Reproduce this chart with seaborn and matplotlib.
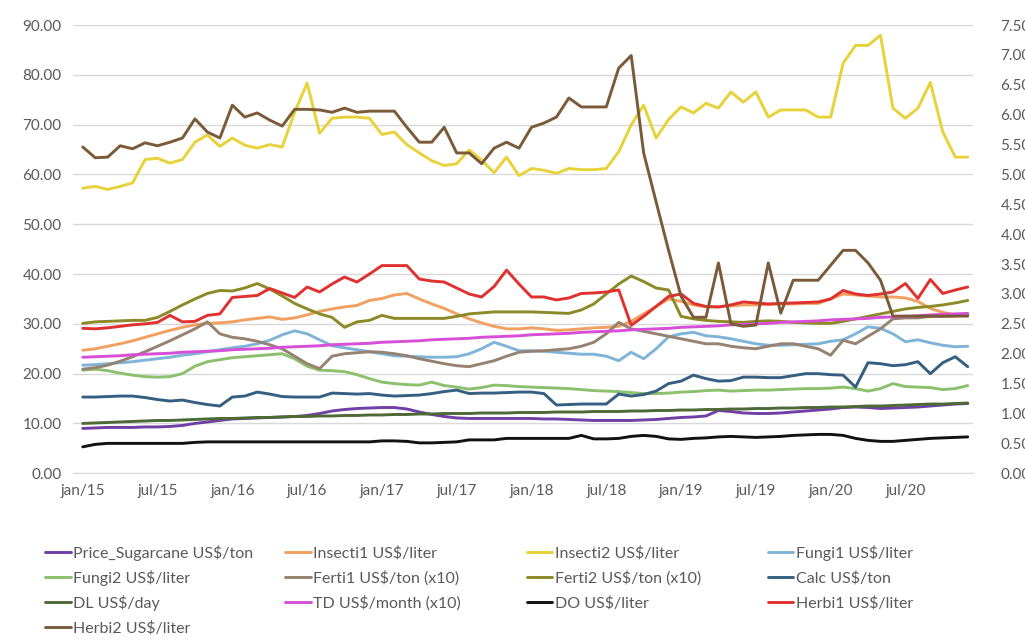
import numpy as np
import matplotlib
matplotlib.use("Agg")
import matplotlib.pyplot as plt
from matplotlib.ticker import FormatStrFormatter, MultipleLocator
import seaborn as sns

# --- Data (monthly, jan/15 .. dec/20) ---
months = list(range(72))
tick_pos = list(range(0, 72, 6))
tick_labels = ["jan/15", "jul/15", "jan/16", "jul/16", "jan/17", "jul/17",
               "jan/18", "jul/18", "jan/19", "jul/19", "jan/20", "jul/20"]

price_sugarcane = [9.0, 9.1, 9.2, 9.2, 9.2, 9.3, 9.3, 9.4, 9.6, 10.0, 10.3, 10.6,
                   10.9, 11.0, 11.1, 11.2, 11.3, 11.4, 11.6, 12.0, 12.5, 12.8, 13.0, 13.1,
                   13.2, 13.2, 12.9, 12.3, 11.8, 11.4, 11.1, 11.0, 11.0, 11.0, 11.0, 11.0,
                   11.0, 10.9, 10.9, 10.8, 10.7, 10.6, 10.6, 10.6, 10.6, 10.7, 10.8, 11.0,
                   11.2, 11.3, 11.5, 12.6, 12.4, 12.1, 12.0, 12.0, 12.1, 12.3, 12.5, 12.7,
                   12.9, 13.2, 13.3, 13.2, 13.0, 13.1, 13.2, 13.3, 13.5, 13.7, 13.9, 14.0]
insecti1 = [24.7, 25.0, 25.5, 26.0, 26.6, 27.3, 28.0, 28.7, 29.3, 29.8, 30.1, 30.2,
            30.4, 30.8, 31.1, 31.4, 30.9, 31.2, 31.8, 32.5, 33.0, 33.4, 33.7, 34.7,
            35.1, 35.8, 36.1, 35.0, 34.0, 33.1, 32.0, 31.0, 30.2, 29.5, 29.0, 29.0,
            29.2, 29.0, 28.7, 28.8, 29.0, 29.2, 29.3, 29.5, 30.5, 32.0, 33.5, 35.0,
            34.5, 33.8, 33.4, 33.4, 33.6, 33.8, 33.8, 33.9, 34.0, 34.0, 34.1, 34.1,
            35.0, 36.0, 35.8, 35.6, 35.4, 35.4, 35.2, 34.5, 33.1, 32.3, 31.8, 31.8]
# secondary axis (right)
insecti2 = [4.77, 4.80, 4.75, 4.80, 4.86, 5.25, 5.27, 5.19, 5.25, 5.54, 5.66, 5.47,
            5.61, 5.49, 5.44, 5.50, 5.46, 6.04, 6.53, 5.69, 5.94, 5.96, 5.96, 5.94,
            5.67, 5.71, 5.50, 5.36, 5.23, 5.15, 5.18, 5.41, 5.24, 5.03, 5.29, 4.98,
            5.10, 5.07, 5.02, 5.10, 5.08, 5.08, 5.10, 5.38, 5.83, 6.16, 5.61, 5.92,
            6.13, 6.03, 6.19, 6.11, 6.38, 6.21, 6.38, 5.96, 6.08, 6.08, 6.08, 5.96,
            5.96, 6.86, 7.16, 7.16, 7.33, 6.11, 5.94, 6.11, 6.54, 5.71, 5.29, 5.29]
fungi1 = [21.7, 21.8, 22.0, 22.2, 22.4, 22.7, 23.0, 23.3, 23.7, 24.0, 24.4, 24.8,
          25.2, 25.5, 26.0, 26.7, 27.8, 28.6, 28.0, 26.8, 25.6, 25.2, 24.8, 24.4,
          24.0, 23.6, 23.5, 23.4, 23.3, 23.3, 23.4, 24.0, 25.0, 26.3, 25.5, 24.6,
          24.6, 24.5, 24.3, 24.1, 23.9, 23.9, 23.5, 22.6, 24.3, 23.0, 25.0, 27.4,
          28.0, 28.3, 27.6, 27.4, 27.0, 26.5, 26.0, 25.7, 25.7, 25.8, 25.9, 26.0,
          26.5, 26.8, 28.0, 29.4, 29.1, 28.0, 26.4, 26.8, 26.2, 25.7, 25.4, 25.5]
fungi2 = [20.7, 20.9, 20.6, 20.1, 19.7, 19.4, 19.3, 19.4, 20.0, 21.5, 22.4, 22.8,
          23.2, 23.4, 23.6, 23.8, 24.0, 23.0, 21.5, 20.7, 20.6, 20.4, 19.8, 19.0,
          18.3, 18.0, 17.8, 17.7, 18.3, 17.6, 17.3, 16.9, 17.2, 17.7, 17.6, 17.4,
          17.3, 17.2, 17.1, 17.0, 16.8, 16.6, 16.5, 16.4, 16.2, 16.0, 16.0, 16.1,
          16.3, 16.4, 16.6, 16.7, 16.5, 16.6, 16.7, 16.7, 16.8, 16.9, 17.0, 17.0,
          17.1, 17.3, 17.0, 16.5, 17.0, 18.0, 17.4, 17.3, 17.2, 16.8, 17.0, 17.6]
ferti1 = [20.9, 21.2, 21.7, 22.5, 23.4, 24.4, 25.5, 26.6, 27.8, 29.0, 30.4, 28.0,
          27.3, 27.0, 26.5, 25.8, 25.0, 23.5, 22.0, 21.0, 23.5, 24.0, 24.2, 24.4,
          24.3, 24.0, 23.6, 23.0, 22.5, 22.0, 21.6, 21.4, 22.0, 22.6, 23.5, 24.3,
          24.5, 24.6, 24.8, 25.0, 25.5, 26.3, 28.0, 30.3, 29.0, 28.5, 28.0, 27.5,
          27.0, 26.5, 26.0, 26.0, 25.5, 25.2, 25.0, 25.5, 26.0, 26.0, 25.5, 25.0,
          23.7, 26.7, 26.0, 27.5, 29.0, 31.0, 31.2, 31.2, 31.5, 31.5, 31.6, 31.8]
ferti2 = [30.1, 30.4, 30.5, 30.6, 30.7, 30.7, 31.3, 32.5, 33.8, 35.0, 36.1, 36.7,
          36.6, 37.2, 38.1, 37.0, 35.6, 34.1, 33.0, 32.0, 31.3, 29.3, 30.4, 30.7,
          31.7, 31.1, 31.1, 31.1, 31.1, 31.1, 31.5, 32.0, 32.2, 32.4, 32.4, 32.4,
          32.4, 32.3, 32.2, 32.1, 32.8, 34.0, 36.0, 38.0, 39.6, 38.5, 37.2, 36.8,
          31.5, 31.0, 30.7, 30.5, 30.4, 30.3, 30.5, 30.6, 30.5, 30.3, 30.2, 30.1,
          30.1, 30.5, 31.0, 31.5, 32.0, 32.5, 33.0, 33.3, 33.5, 33.8, 34.2, 34.7]
calc = [15.3, 15.3, 15.4, 15.5, 15.5, 15.2, 14.8, 14.5, 14.7, 14.2, 13.8, 13.5,
        15.3, 15.5, 16.3, 15.9, 15.4, 15.3, 15.3, 15.3, 16.1, 16.0, 15.9, 16.0,
        15.7, 15.5, 15.6, 15.7, 16.0, 16.4, 16.7, 16.0, 16.1, 16.1, 16.2, 16.3,
        16.3, 16.0, 13.7, 13.8, 13.9, 13.9, 13.9, 15.9, 15.5, 15.8, 16.5, 18.0,
        18.5, 19.7, 19.0, 18.5, 18.6, 19.3, 19.3, 19.2, 19.2, 19.6, 20.0, 20.0,
        19.8, 19.7, 17.3, 22.2, 22.0, 21.6, 21.8, 22.4, 20.0, 22.2, 23.4, 21.4]
dl = [10.0, 10.1, 10.2, 10.3, 10.4, 10.5, 10.6, 10.6, 10.7, 10.8, 10.9, 11.0,
      11.0, 11.1, 11.2, 11.2, 11.3, 11.4, 11.4, 11.5, 11.5, 11.6, 11.6, 11.7,
      11.7, 11.8, 11.8, 11.9, 11.9, 12.0, 12.0, 12.0, 12.1, 12.1, 12.1, 12.2,
      12.2, 12.2, 12.3, 12.3, 12.3, 12.4, 12.4, 12.4, 12.5, 12.5, 12.6, 12.6,
      12.7, 12.7, 12.8, 12.8, 12.9, 12.9, 13.0, 13.0, 13.1, 13.1, 13.2, 13.2,
      13.3, 13.3, 13.4, 13.5, 13.5, 13.6, 13.7, 13.8, 13.9, 13.9, 14.0, 14.1]
td = [23.3, 23.4, 23.5, 23.6, 23.8, 23.9, 24.0, 24.1, 24.3, 24.4, 24.5, 24.6,
      24.8, 24.9, 25.0, 25.1, 25.3, 25.4, 25.5, 25.6, 25.8, 25.9, 26.0, 26.1,
      26.3, 26.4, 26.5, 26.6, 26.8, 26.9, 27.0, 27.1, 27.3, 27.4, 27.5, 27.6,
      27.8, 27.9, 28.0, 28.1, 28.3, 28.4, 28.5, 28.6, 28.8, 28.9, 29.0, 29.1,
      29.3, 29.4, 29.5, 29.6, 29.8, 29.9, 30.0, 30.1, 30.3, 30.4, 30.5, 30.6,
      30.8, 30.9, 31.0, 31.1, 31.3, 31.4, 31.5, 31.6, 31.8, 31.9, 32.0, 32.1]
do = [5.3, 5.8, 6.0, 6.0, 6.0, 6.0, 6.0, 6.0, 6.0, 6.2, 6.3, 6.3,
      6.3, 6.3, 6.3, 6.3, 6.3, 6.3, 6.3, 6.3, 6.3, 6.3, 6.3, 6.3,
      6.5, 6.5, 6.4, 6.1, 6.1, 6.2, 6.3, 6.7, 6.7, 6.7, 7.0, 7.0,
      7.0, 7.0, 7.0, 7.0, 7.6, 6.9, 6.9, 7.0, 7.4, 7.6, 7.4, 6.9,
      6.8, 7.0, 7.1, 7.3, 7.4, 7.3, 7.2, 7.3, 7.4, 7.6, 7.7, 7.8,
      7.8, 7.6, 7.0, 6.6, 6.4, 6.4, 6.6, 6.8, 7.0, 7.1, 7.2, 7.3]
herbi1 = [29.1, 29.0, 29.2, 29.5, 29.8, 30.0, 30.3, 31.7, 30.4, 30.5, 31.7, 32.0,
          35.3, 35.5, 35.7, 37.1, 36.2, 35.3, 37.4, 36.4, 38.0, 39.4, 38.4, 40.0,
          41.7, 41.7, 41.7, 39.0, 38.6, 38.4, 37.2, 36.0, 35.4, 37.5, 40.8, 38.0,
          35.4, 35.4, 34.8, 35.2, 36.1, 36.2, 36.4, 36.8, 29.7, 31.5, 33.5, 35.5,
          36.0, 34.1, 33.5, 33.4, 33.8, 34.4, 34.2, 34.0, 34.1, 34.2, 34.3, 34.4,
          35.0, 36.7, 36.0, 35.7, 36.0, 36.4, 38.1, 35.1, 38.9, 36.1, 36.8, 37.4]
# secondary axis (right)
herbi2 = [5.46, 5.28, 5.29, 5.48, 5.43, 5.53, 5.48, 5.54, 5.61, 5.93, 5.71, 5.61,
          6.16, 5.96, 6.03, 5.91, 5.81, 6.09, 6.09, 6.08, 6.04, 6.11, 6.04, 6.06,
          6.06, 6.06, 5.79, 5.54, 5.54, 5.79, 5.36, 5.36, 5.18, 5.44, 5.54, 5.44,
          5.79, 5.86, 5.96, 6.28, 6.13, 6.13, 6.13, 6.78, 6.99, 5.36, 4.54, 3.73,
          2.96, 2.61, 2.61, 3.52, 2.50, 2.46, 2.48, 3.52, 2.68, 3.23, 3.23, 3.23,
          3.48, 3.73, 3.73, 3.52, 3.23, 2.63, 2.63, 2.63, 2.63, 2.63, 2.63, 2.63]

# (label, values, colour, on right axis?)
series = [
    ("Price_Sugarcane US$/ton", price_sugarcane, "#7140a6", False),
    ("Insecti1 US$/liter", insecti1, "#f0a060", False),
    ("Insecti2 US$/liter", insecti2, "#e8d23a", True),
    ("Fungi1 US$/liter", fungi1, "#7eb4d8", False),
    ("Fungi2 US$/liter", fungi2, "#8cc06c", False),
    ("Ferti1 US$/ton (x10)", ferti1, "#958270", False),
    ("Ferti2 US$/ton (x10)", ferti2, "#8c8a26", False),
    ("Calc US$/ton", calc, "#355f80", False),
    ("DL US$/day", dl, "#4d6a35", False),
    ("TD US$/month (x10)", td, "#d64fd6", False),
    ("DO US$/liter", do, "#111111", False),
    ("Herbi1 US$/liter", herbi1, "#e0312e", False),
    ("Herbi2 US$/liter", herbi2, "#7b5a38", True),
]

# --- Plot ---
sns.set_style("white")
plt.rcParams["font.family"] = ["Lato", "DejaVu Sans"]

fig = plt.figure(figsize=(10.25, 6.43), dpi=100)
ax = fig.add_axes([0.071, 0.264, 0.878, 0.697])
ax2 = ax.twinx()

handles = []
for label, vals, color, right in series:
    target = ax2 if right else ax
    sns.lineplot(x=months, y=vals, ax=target, color=color, linewidth=2.1,
                 legend=False)
    handles.append(plt.Line2D([], [], color=color, linewidth=2.1, label=label))

ax.set_xlim(-0.8, 71.4)
ax.set_ylim(0, 90)
ax2.set_ylim(0, 7.5)
ax.yaxis.set_major_locator(MultipleLocator(10))
ax2.yaxis.set_major_locator(MultipleLocator(0.5))
ax.yaxis.set_major_formatter(FormatStrFormatter("%.2f"))
ax2.yaxis.set_major_formatter(FormatStrFormatter("%.2f"))
ax.set_xticks(tick_pos)
ax.set_xticklabels(tick_labels)
ax.xaxis.set_minor_locator(MultipleLocator(1))

ax.grid(axis="y", color="#d9d9d9", linewidth=1)
ax.set_axisbelow(True)
for a in (ax, ax2):
    for s in a.spines.values():
        s.set_visible(False)
ax.spines["bottom"].set_visible(True)
ax.spines["bottom"].set_color("#d9d9d9")

ax.tick_params(axis="y", length=0, pad=8, labelsize=11, labelcolor="#595959")
ax2.tick_params(axis="y", length=0, pad=20, labelsize=11, labelcolor="#595959")
ax.tick_params(axis="x", which="major", length=4, color="#d9d9d9", pad=4,
               labelsize=11, labelcolor="#595959")
ax.tick_params(axis="x", which="minor", length=2, color="#d9d9d9")
ax.set_xlabel("")
ax.set_ylabel("")
ax2.set_ylabel("")

# legend: 4 columns, row-major order like Excel; one entry per slot so rows line up
col_x = [0.044, 0.278, 0.514, 0.749]
row_y = [553, 578, 603, 628]
for k, h in enumerate(handles):
    r, c = divmod(k, 4)
    fig.legend(handles=[h], loc="center left",
               bbox_to_anchor=(col_x[c], 1 - row_y[r] / 643), frameon=False,
               fontsize=11.5, borderpad=0, borderaxespad=0, handlelength=1.6,
               handletextpad=0.15, labelcolor="#595959")

fig.savefig("out.png", dpi=100)
